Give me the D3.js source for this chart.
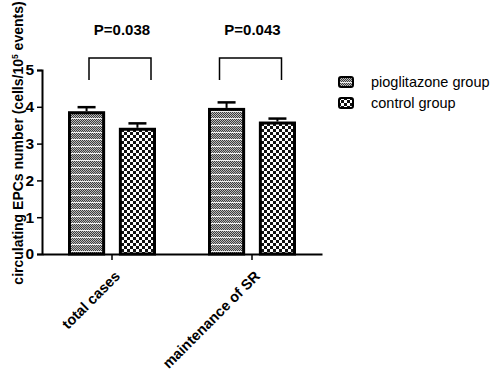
<!DOCTYPE html><meta charset="utf-8">
<title>EPCs bar chart</title>
<style>
  body{margin:0;background:#fff;font-family:Arial,"Liberation Sans",sans-serif}
  svg{display:block}
</style>
<script src="https://d3js.org/d3.v7.min.js"></script>
<body><script>
const categories = ["total cases", "maintenance of SR"];
const series = ["pioglitazone group", "control group"];
const means = [[3.88, 3.43], [3.97, 3.60]];
const sems = [[0.11, 0.12], [0.15, 0.08]];
const pLabels = ["P=0.038", "P=0.043"];
const yTicks = [0, 1, 2, 3, 4, 5];

const W = 500, H = 374;
const svg = d3.select("body").append("svg").attr("width", W).attr("height", H);

/* ---- patterns ---- */
const defs = svg.append("defs");
const p1 = defs.append("pattern").attr("id", "pio").attr("patternUnits", "userSpaceOnUse")
  .attr("width", 2).attr("height", 7);
p1.append("rect").attr("width", 2).attr("height", 7).attr("fill", "#bdbdbd");
[[0,0],[1,1],[0,2],[1,3],[0,4],[1,5]].forEach(([px, py]) =>
  p1.append("rect").attr("x", px).attr("y", py).attr("width", 1).attr("height", 1).attr("fill", "#3a3a3a"));
p1.append("rect").attr("y", 6).attr("width", 2).attr("height", 1).attr("fill", "#eee");
const p2 = defs.append("pattern").attr("id", "ctl").attr("patternUnits", "userSpaceOnUse")
  .attr("width", 6).attr("height", 6);
p2.append("rect").attr("width", 6).attr("height", 6).attr("fill", "#fff");
p2.append("rect").attr("width", 3).attr("height", 3).attr("fill", "#111");
p2.append("rect").attr("x", 3).attr("y", 3).attr("width", 3).attr("height", 3).attr("fill", "#111");
const fills = ["url(#pio)", "url(#ctl)"];

/* ---- scales ---- */
const x0 = d3.scaleBand().domain(categories).range([42, 322]);
const x1 = d3.scaleBand().domain(series).range([-44, 44]).paddingInner(0.27);
const y = d3.scaleLinear().domain([0, 5]).range([254, 70]);

/* ---- axes ---- */
const yAx = svg.append("g").attr("transform", "translate(42,0)")
  .call(d3.axisLeft(y).tickValues(yTicks).tickSize(5).tickPadding(3).tickFormat(d3.format("d")));
yAx.select(".domain").attr("stroke", "#000").attr("stroke-width", 2);
yAx.selectAll(".tick line").attr("stroke-width", 1.5);
yAx.selectAll("text").attr("font-size", 15.5).attr("font-weight", "bold")
  .attr("font-family", "Arial,'Liberation Sans',sans-serif").attr("fill", "#000");

const xAx = svg.append("g").attr("transform", "translate(0,254)")
  .call(d3.axisBottom(x0).tickSize(6).tickSizeOuter(0).tickFormat(""));
xAx.select(".domain").attr("stroke", "#000").attr("stroke-width", 2);
xAx.selectAll(".tick line").attr("stroke-width", 1.5);
xAx.selectAll(".tick").append("text")
  .attr("transform", "translate(9,23) rotate(-45)")
  .attr("text-anchor", "end").attr("fill", "#000")
  .attr("font-family", "Arial,'Liberation Sans',sans-serif")
  .attr("font-size", 14.5).attr("font-weight", "bold")
  .text(d => d);

const title = svg.append("text")
  .attr("transform", "translate(23,143) rotate(-90)")
  .attr("text-anchor", "middle").attr("font-size", 14).attr("font-weight", "bold");
title.append("tspan").text("circulating EPCs number (cells/10");
title.append("tspan").attr("font-size", 8.5).attr("dy", -5).text("5");
title.append("tspan").attr("dy", 5).text(" events)");

/* ---- bars ---- */
const bracketShift = [8, -1.5];
categories.forEach((c, i) => {
  const g = svg.append("g").attr("transform", `translate(${x0(c) + x0.bandwidth()/2},0)`);
  series.forEach((s, j) => {
    const bx = x1(s), bw = x1.bandwidth(), v = means[i][j], e = sems[i][j];
    const cx = bx + bw/2;
    g.append("line").attr("x1", cx).attr("x2", cx).attr("y1", y(v)).attr("y2", y(v + e))
      .attr("stroke", "#000").attr("stroke-width", 2);
    g.append("line").attr("x1", cx - 9).attr("x2", cx + 9).attr("y1", y(v + e)).attr("y2", y(v + e))
      .attr("stroke", "#000").attr("stroke-width", 2.5);
    g.append("rect").attr("x", bx + 1.5).attr("y", y(v) + 1.5)
      .attr("width", bw - 3).attr("height", y(0) - y(v) - 1.5)
      .attr("fill", fills[j]).attr("stroke", "#000").attr("stroke-width", 3);
  });
  // significance bracket
  const bc = bracketShift[i], bl = bc - 31, br = bc + 31;
  g.append("path").attr("d", `M${bl},80V58H${br}V80`)
    .attr("fill", "none").attr("stroke", "#000").attr("stroke-width", 1.5);
  g.append("text").attr("x", bc + 2).attr("y", 35).attr("text-anchor", "middle")
    .attr("font-size", 15).attr("font-weight", "bold").text(pLabels[i]);
});

/* ---- legend ---- */
const leg = svg.append("g").attr("transform", "translate(338,76)");
series.forEach((s, j) => {
  const r = leg.append("g").attr("transform", `translate(0,${j*21})`);
  r.append("rect").attr("x", 1).attr("y", 1).attr("width", 14).attr("height", 10).attr("rx", 2)
    .attr("fill", fills[j]).attr("stroke", "#000").attr("stroke-width", 2);
  r.append("text").attr("x", 33).attr("y", 11).attr("font-size", 14.5).text(s);
});
</script>
